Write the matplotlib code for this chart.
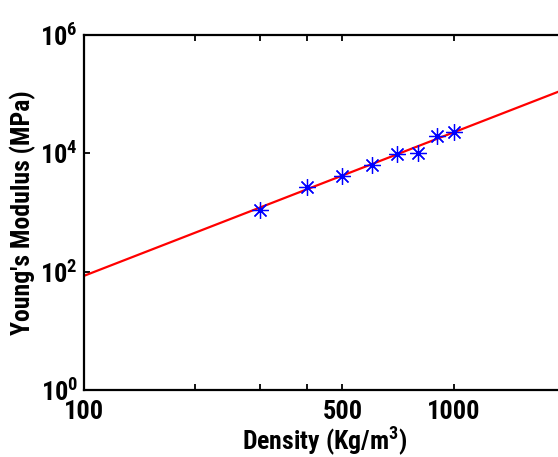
import matplotlib
matplotlib.use("Agg")
import matplotlib.pyplot as plt
import numpy as np

# 数据：密度 (Kg/m^3) 与杨氏模量 (MPa)
density = [300, 400, 500, 600, 700, 800, 900, 1000]
modulus = [1100, 2670, 4190, 6430, 9750, 10300, 19900, 23200]

# 拟合直线 E = a * (rho/100)^b
fit_a = 84.5
fit_b = 2.43
fit_rho = [100, 2000]

x_ticks = [100, 200, 300, 400, 500, 1000]
x_tick_labels = ['100', '', '', '', '500', '1000']
y_ticks = [1, 1e2, 1e4, 1e6]
y_tick_labels = [r'$10^{0}$', r'$10^{2}$', r'$10^{4}$', r'$10^{6}$']

font = 'Roboto Condensed'
plt.rcParams['font.family'] = [font, 'DejaVu Sans']
plt.rcParams['font.weight'] = 'bold'
plt.rcParams['mathtext.fontset'] = 'custom'
plt.rcParams['mathtext.rm'] = font + ':bold'
plt.rcParams['mathtext.bf'] = font + ':bold'
plt.rcParams['mathtext.it'] = font + ':bold'

fig = plt.figure(figsize=(5.58, 4.57), dpi=100)
ax = fig.add_axes([0.1498, 0.1466, 0.8636, 0.7768])

rho = np.array(fit_rho, dtype=float)
ax.plot(rho, fit_a * (rho / 100) ** fit_b, color='red', lw=1.6, zorder=2)
ax.plot(density, modulus, linestyle='none', marker=(8, 2, 0), markersize=12,
        markeredgewidth=0.9, color='blue', zorder=3)

ax.set_xscale('log')
ax.set_yscale('log')
ax.set_xlim(100, 2000)
ax.set_ylim(1, 1e6)

ax.xaxis.set_minor_locator(matplotlib.ticker.NullLocator())
ax.yaxis.set_minor_locator(matplotlib.ticker.NullLocator())
ax.set_xticks(x_ticks)
ax.set_xticklabels(x_tick_labels)
ax.set_yticks(y_ticks)
ax.set_yticklabels(y_tick_labels)

ax.tick_params(direction='in', length=4, width=1.3, top=True, right=True,
               labelsize=19)
ax.tick_params(axis='x', pad=7)
ax.tick_params(axis='y', pad=4)
for s in ax.spines.values():
    s.set_linewidth(1.6)

ax.set_xlabel(r'Density (Kg/m$^{3}$)', fontsize=18.5, fontweight='bold')
ax.set_ylabel("Young's Modulus (MPa)", fontsize=18.5, fontweight='bold')
ax.xaxis.set_label_coords(0.5, -0.098)
ax.xaxis.label.set_va('top')
ax.yaxis.set_label_coords(-0.098, 0.5)

fig.savefig('out.png', dpi=100)
